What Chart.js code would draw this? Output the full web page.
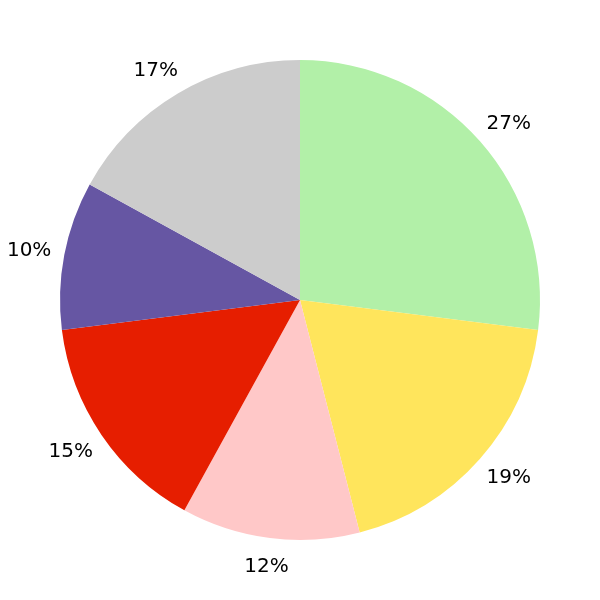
<!DOCTYPE html>
<html>
<head>
<meta charset="utf-8">
<script src="https://cdn.jsdelivr.net/npm/chart.js@4.4.0/dist/chart.umd.min.js"></script>
<style>
  html, body { margin: 0; padding: 0; background: #fff; }
  #wrap { width: 600px; height: 600px; }
</style>
</head>
<body>
<div id="wrap"><canvas id="pie"></canvas></div>
<script>
  // slices, clockwise from 12 o'clock
  const labels = ["A", "B", "C", "D", "E", "F"];
  const shares = [27, 19, 12, 15, 10, 17];
  const colors = ["#b2f0a8", "#ffe55c", "#ffc8c8", "#e61e00", "#6656a3", "#cccccc"];

  // percent labels outside each slice
  const outsideLabels = {
    id: 'outsideLabels',
    afterDatasetsDraw(chart) {
      const ctx = chart.ctx;
      const meta = chart.getDatasetMeta(0);
      ctx.save();
      ctx.font = '20px "DejaVu Sans"';
      ctx.fillStyle = '#000';
      ctx.textAlign = 'center';
      ctx.textBaseline = 'middle';
      meta.data.forEach((arc, i) => {
        const mid = (arc.startAngle + arc.endAngle) / 2;
        const r = arc.outerRadius * 1.115;
        const cx = Math.cos(mid);
        const push = Math.abs(cx) > 0.3 ? Math.sign(cx) * 8 : 0;
        ctx.fillText(shares[i] + '%', arc.x + r * cx + push, arc.y + r * Math.sin(mid) + 1);
      });
      ctx.restore();
    }
  };

  new Chart(document.getElementById('pie'), {
    type: 'pie',
    data: {
      labels: labels,
      datasets: [{ data: shares, backgroundColor: colors, borderWidth: 0 }]
    },
    options: {
      responsive: true,
      maintainAspectRatio: false,
      animation: false,
      layout: { padding: 60 },
      plugins: { legend: { display: false }, tooltip: { enabled: false } }
    },
    plugins: [outsideLabels]
  });
</script>
</body>
</html>
